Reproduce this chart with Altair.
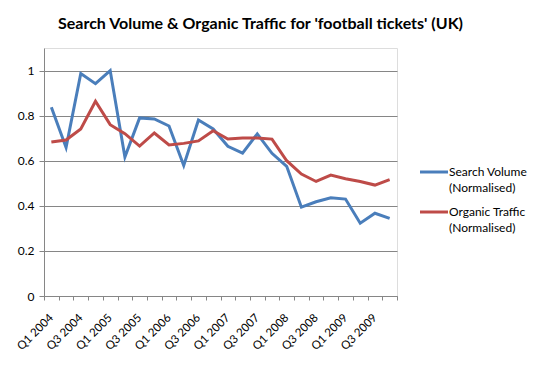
import altair as alt
import pandas as pd

quarters = ["Q1 2004", "Q2 2004", "Q3 2004", "Q4 2004",
            "Q1 2005", "Q2 2005", "Q3 2005", "Q4 2005",
            "Q1 2006", "Q2 2006", "Q3 2006", "Q4 2006",
            "Q1 2007", "Q2 2007", "Q3 2007", "Q4 2007",
            "Q1 2008", "Q2 2008", "Q3 2008", "Q4 2008",
            "Q1 2009", "Q2 2009", "Q3 2009", "Q4 2009"]
search_volume = [0.837, 0.659, 0.987, 0.942, 1.0, 0.616, 0.79, 0.785,
                 0.754, 0.579, 0.781, 0.741, 0.664, 0.634, 0.719, 0.633,
                 0.575, 0.394, 0.418, 0.436, 0.43, 0.323, 0.367, 0.344]
organic_traffic = [0.683, 0.692, 0.741, 0.864, 0.76, 0.72, 0.665, 0.723,
                   0.67, 0.677, 0.688, 0.733, 0.696, 0.701, 0.701, 0.696,
                   0.6, 0.541, 0.508, 0.536, 0.52, 0.508, 0.492, 0.516]
series_names = ["Search Volume (Normalised)", "Organic Traffic (Normalised)"]
series_colors = ["#4A7EBB", "#BE4B48"]
y_ticks = [0, 0.2, 0.4, 0.6, 0.8, 1.0]

rows = []
for name, vals in zip(series_names, [search_volume, organic_traffic]):
    for q, v in zip(quarters, vals):
        rows.append({"quarter": q, "value": v, "series": name})
df = pd.DataFrame(rows)

FONT = "Lato"
GRID = "#868686"
color_scale = alt.Scale(domain=series_names, range=series_colors)

lines = alt.Chart(df).mark_line(strokeWidth=3).encode(
    x=alt.X("quarter:O", sort=quarters, bandPosition=0.5,
            scale=alt.Scale(type="band", paddingInner=0, paddingOuter=0),
            axis=alt.Axis(title=None, tickBand="extent", labelAngle=-45,
                          labelAlign="right", labelBaseline="middle",
                          labelExpr="test(/^Q[13]/, datum.label) ? datum.label : ''",
                          labelOverlap=False, labelPadding=16, tickSize=4,
                          domainColor=GRID, tickColor=GRID, grid=False,
                          labelFont=FONT, labelFontSize=11.5, labelColor="#000000")),
    y=alt.Y("value:Q",
            scale=alt.Scale(domain=[0, 1.1], nice=False, zero=True),
            axis=alt.Axis(title=None, values=y_ticks, format=".1~f",
                          tickSize=5, labelPadding=5, domainColor=GRID,
                          tickColor=GRID, gridColor=GRID, gridWidth=1, grid=True,
                          labelFont=FONT, labelFontSize=12, labelColor="#000000")),
    color=alt.Color("series:N", scale=color_scale, legend=None),
)

legend_layers = []
legend_text = ["Search Volume\n(Normalised)", "Organic Traffic\n(Normalised)"]
for i, (name, txt) in enumerate(zip(series_names, legend_text)):
    ldf = pd.DataFrame({"series": [name], "label": [txt]})
    ypix = 124 + 40 * i
    legend_layers.append(
        alt.Chart(ldf).mark_rule(strokeWidth=3).encode(
            x=alt.value(376), x2=alt.value(404), y=alt.value(ypix),
            color=alt.Color("series:N", scale=color_scale, legend=None)))
    legend_layers.append(
        alt.Chart(ldf).mark_text(align="left", baseline="alphabetic", lineBreak="\n",
                                 lineHeight=16, font=FONT, fontSize=12,
                                 color="#000000").encode(
            x=alt.value(405), y=alt.value(ypix + 4), text="label:N"))

chart = alt.layer(lines, *legend_layers).properties(
    width=353, height=248,
    padding={"left": 36, "top": 40, "right": 140, "bottom": 64},
    autosize=alt.AutoSizeParams(type="none"),
    title=alt.TitleParams("Search Volume & Organic Traffic for 'football tickets' (UK)",
                          font=FONT, fontSize=16, fontWeight="bold", anchor="middle",
                          dx=40, offset=16, color="#000000"),
).configure_view(stroke=None).configure(background="white")

chart.save("out.html", embed_options={"renderer": "svg", "actions": False})
